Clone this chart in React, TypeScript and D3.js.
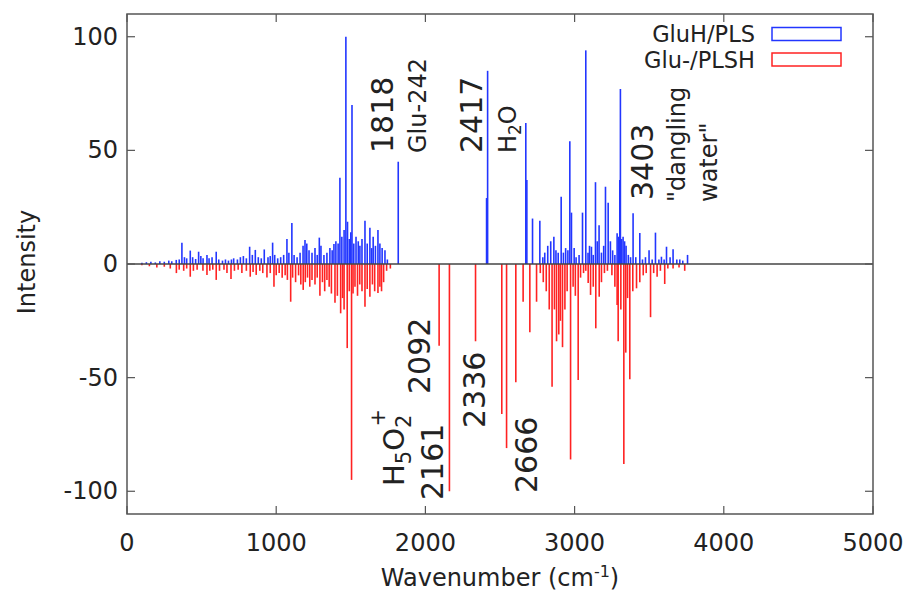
import React from "react";
import * as d3 from "d3";

// GluH/PLS stick spectrum: [wavenumber (cm-1), intensity]
const gluHPLS: [number, number][] = [
  [100, 0.5], [130, 0.8], [160, 1], [190, 0.7], [220, 1.2], [250, 1], [280, 1.5], [300, 1.2], [330, 1.8], [350, 2],
  [368, 9.4], [385, 3], [400, 2.5], [424, 5.9], [440, 3], [460, 2.2], [480, 5.4], [495, 3.5], [510, 2.5], [536, 4],
  [550, 2.5], [570, 3], [598, 5.4], [615, 2], [640, 1.5], [660, 2], [680, 1.5], [700, 2], [715, 2.5], [740, 2],
  [760, 3], [780, 3.5], [800, 2.5], [822, 7.6], [840, 4], [860, 6.2], [880, 3], [900, 2.5], [920, 6.4], [945, 3],
  [960, 3.5], [976, 9.4], [990, 4], [1010, 2.5], [1030, 3], [1050, 4], [1072, 11], [1085, 5], [1105, 18], [1120, 4],
  [1140, 3], [1160, 5], [1180, 8], [1193, 10.6], [1205, 9], [1220, 6], [1240, 5], [1260, 7], [1275, 4], [1289, 11.6],
  [1300, 8], [1320, 4], [1340, 5], [1360, 7], [1375, 6], [1387, 8.8], [1400, 10], [1415, 9], [1427, 38], [1440, 12],
  [1455, 15], [1467, 100], [1478, 18.6], [1490, 11], [1500, 14], [1508, 70], [1520, 9], [1535, 12], [1550, 10], [1561, 8],
  [1575, 11], [1595, 19], [1610, 9], [1628, 16], [1640, 7], [1650, 12], [1665, 8], [1682, 15], [1695, 9], [1710, 7],
  [1729, 6], [1745, 2], [1818, 45],
  [2410, 29], [2414, 29], [2417, 85], [2673, 62], [2680, 37], [2718, 20], [2767, 19], [2787, 3], [2800, 5], [2820, 8],
  [2840, 10], [2861, 12], [2875, 6], [2890, 5], [2910, 29.6], [2925, 5], [2940, 7], [2955, 6], [2968, 54], [2979, 22.6],
  [2997, 7], [3010, 3], [3030, 4], [3053, 22.6], [3075, 94], [3090, 5], [3100, 8], [3113, 7.6], [3125, 4], [3140, 36],
  [3152, 10], [3164, 17], [3180, 5], [3195, 8], [3207, 34], [3225, 27], [3240, 10], [3255, 6], [3270, 4], [3285, 13.5],
  [3295, 12], [3303, 37], [3307, 77], [3315, 11], [3325, 12], [3335, 10], [3345, 8], [3360, 4], [3375, 3], [3392, 22.3],
  [3410, 3], [3437, 13.6], [3455, 2], [3475, 3], [3499, 6], [3520, 2], [3542, 13.8], [3565, 2], [3582, 3.2], [3600, 2],
  [3616, 7.6], [3640, 3], [3660, 6.5], [3685, 2], [3705, 2], [3725, 1.5], [3757, 4],
];

// Glu-/PLSH stick spectrum (plotted negative)
const gluPLSH: [number, number][] = [
  [100, -0.5], [150, -1], [200, -1.5], [250, -1.2], [290, -2], [331, -4], [350, -2.5], [380, -3], [400, -2], [424, -5.6],
  [445, -3], [470, -2.5], [509, -3], [536, -4.8], [555, -3], [575, -2.5], [598, -7], [620, -3], [650, -2.5], [670, -4],
  [697, -6.6], [720, -3], [745, -2.5], [770, -4], [800, -3], [826, -5.6], [845, -3.5], [866, -4.8], [890, -3], [910, -4],
  [938, -5.9], [960, -4], [985, -10], [1000, -5], [1020, -4], [1040, -6], [1060, -5], [1075, -7], [1097, -16.6], [1110, -6],
  [1130, -8], [1150, -5], [1165, -9], [1181, -11.4], [1195, -8], [1210, -6], [1225, -10], [1240, -7], [1260, -9], [1275, -6],
  [1293, -14], [1310, -8], [1325, -12], [1340, -7], [1355, -10], [1370, -13], [1394, -17], [1410, -14], [1432, -21.7], [1445, -15],
  [1455, -20], [1476, -37], [1490, -12], [1505, -95], [1515, -13], [1528, -10], [1545, -14], [1560, -9], [1575, -12], [1595, -18.8],
  [1610, -11], [1628, -14.4], [1645, -9], [1660, -12], [1682, -12.8], [1695, -10], [1706, -12], [1720, -8], [1740, -3], [1765, -2],
  [2092, -36], [2161, -100], [2336, -34], [2512, -66], [2544, -81], [2606, -52], [2655, -16.6], [2700, -30], [2745, -16.6], [2770, -4],
  [2790, -8], [2810, -12], [2830, -20], [2849, -54], [2865, -20], [2879, -34], [2894, -31], [2905, -25], [2919, -36.6], [2935, -20],
  [2950, -12], [2973, -86], [2990, -10], [3005, -14], [3024, -51], [3040, -6], [3060, -4], [3075, -3], [3091, -8.4], [3107, -13.6],
  [3125, -10], [3142, -28.3], [3165, -14.4], [3180, -8], [3200, -4], [3220, -3], [3250, -5], [3270, -10], [3285, -18], [3292, -34],
  [3310, -20], [3330, -88], [3343, -39], [3355, -15], [3370, -50.7], [3390, -12], [3415, -10.7], [3437, -8], [3460, -5], [3480, -4],
  [3509, -23.4], [3530, -4], [3553, -5.6], [3575, -3], [3604, -8.8], [3625, -2], [3660, -2], [3700, -1.5], [3738, -3],
];

const xTicks = [0, 1000, 2000, 3000, 4000, 5000];
const yTicks = [-100, -50, 0, 50, 100];
const seriesNames = ["GluH/PLS", "Glu-/PLSH"];
const seriesColors = ["#2236ff", "#ff2222"];

const W = 906;
const H = 593;
const FONT = "'DejaVu Sans', Verdana, sans-serif";

export default function App() {
  const x = d3.scaleLinear().domain([0, 5000]).range([127, 873]);
  const y = d3.scaleLinear().domain([-110, 110]).range([514, 14]);
  const [x0, x1] = x.range();
  const [y0, y1] = y.range(); // y0 bottom, y1 top
  const frame = "#555";
  const txt = "#222";
  const tl = 8;

  const rot = (px: number, py: number) => `translate(${px},${py}) rotate(-90)`;

  return (
    <div style={{ position: "absolute", left: 0, top: 0 }}>
      <svg width={W} height={H} style={{ display: "block", background: "#fff" }} fontFamily={FONT}>
        {/* sticks */}
        <g stroke={seriesColors[0]} strokeWidth={1.6}>
          {gluHPLS.map(([wn, v], i) => (
            <line key={i} x1={x(wn)} x2={x(wn)} y1={y(0)} y2={y(v)} />
          ))}
        </g>
        <g stroke={seriesColors[1]} strokeWidth={1.6}>
          {gluPLSH.map(([wn, v], i) => (
            <line key={i} x1={x(wn)} x2={x(wn)} y1={y(0)} y2={y(v)} />
          ))}
        </g>
        {/* zero line */}
        <line x1={x0} x2={x1} y1={y(0)} y2={y(0)} stroke="#444" strokeWidth={1.5} />

        {/* frame */}
        <rect x={x0} y={y1} width={x1 - x0} height={y0 - y1} fill="none" stroke={frame} strokeWidth={1.5} />

        {/* ticks */}
        <g stroke={frame} strokeWidth={1.2}>
          {xTicks.map((t) => (
            <g key={"xt" + t}>
              <line x1={x(t)} x2={x(t)} y1={y0} y2={y0 - tl} />
              <line x1={x(t)} x2={x(t)} y1={y1} y2={y1 + tl} />
            </g>
          ))}
          {yTicks.map((t) => (
            <g key={"yt" + t}>
              <line x1={x0} x2={x0 + tl} y1={y(t)} y2={y(t)} />
              <line x1={x1} x2={x1 - tl} y1={y(t)} y2={y(t)} />
            </g>
          ))}
        </g>
        <g fill={txt} fontSize={24}>
          {xTicks.map((t) => (
            <text key={"xl" + t} x={x(t)} y={y0 + 37} textAnchor="middle">
              {t}
            </text>
          ))}
          {yTicks.map((t) => (
            <text key={"yl" + t} x={x0 - 9} y={y(t) + 8} textAnchor="end">
              {t}
            </text>
          ))}
        </g>

        {/* axis titles */}
        <text x={(x0 + x1) / 2} y={586} textAnchor="middle" fontSize={24} fill={txt}>
          Wavenumber (cm
          <tspan dy={-9} fontSize={16}>-1</tspan>
          <tspan dy={9}>)</tspan>
        </text>
        <text transform={rot(35, 262)} textAnchor="middle" fontSize={24} fill={txt}>
          Intensity
        </text>

        {/* legend */}
        <g fontSize={22.5} fill={txt}>
          <text x={755} y={42} textAnchor="end">{seriesNames[0]}</text>
          <text x={755} y={68} textAnchor="end">{seriesNames[1]}</text>
        </g>
        <rect x={772} y={27.5} width={69} height={13} fill="none" stroke={seriesColors[0]} strokeWidth={1.5} />
        <rect x={772} y={53} width={69} height={13} fill="none" stroke={seriesColors[1]} strokeWidth={1.5} />

        {/* annotations (upper) */}
        <g fill={txt}>
          <text transform={rot(393, 153)} fontSize={30}>1818</text>
          <text transform={rot(426, 153)} fontSize={24}>Glu-242</text>
          <text transform={rot(482, 153)} fontSize={30}>2417</text>
          <text transform={rot(516, 153)} fontSize={24}>
            H<tspan dy={5} fontSize={17}>2</tspan><tspan dy={-5}>O</tspan>
          </text>
          <text transform={rot(653, 200)} fontSize={30}>3403</text>
          <text transform={rot(685, 202)} fontSize={24}>"dangling</text>
          <text transform={rot(717, 202)} fontSize={24}>water"</text>
        </g>
        {/* annotations (lower) */}
        <g fill={txt}>
          <text transform={rot(430, 394)} fontSize={30}>2092</text>
          <text transform={rot(404, 486)} fontSize={29}>
            H<tspan dy={7} fontSize={21}>5</tspan><tspan dy={-7}>O</tspan>
            <tspan dy={7} fontSize={21}>2</tspan>
            <tspan dx={-12} dy={-26} fontSize={21}>+</tspan>
          </text>
          <text transform={rot(443, 500)} fontSize={30}>2161</text>
          <text transform={rot(485, 428)} fontSize={30}>2336</text>
          <text transform={rot(537, 493)} fontSize={30}>2666</text>
        </g>
      </svg>
    </div>
  );
}
